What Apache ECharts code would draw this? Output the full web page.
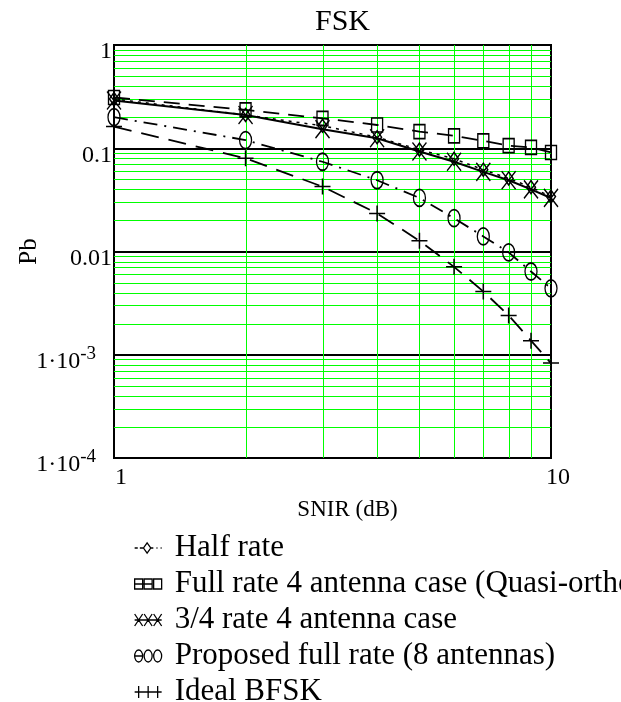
<!DOCTYPE html>
<html><head><meta charset="utf-8">
<script src="https://cdn.jsdelivr.net/npm/echarts@6/dist/echarts.min.js"></script>
<style>html,body{margin:0;padding:0;background:#fff}#c{width:621px;height:702px}</style>
</head><body><div id="c"></div>
<script>
// ---- data ----
const snir = [1, 2, 3, 4, 5, 6, 7, 8, 9, 10];
const halfRate = [0.30, 0.21, 0.165, 0.128, 0.097, 0.079, 0.062, 0.051, 0.042, 0.034];
const fullRate4 = [0.31, 0.235, 0.195, 0.168, 0.145, 0.132, 0.118, 0.106, 0.102, 0.091];
const threeQuarterRate4 = [0.29, 0.21, 0.153, 0.125, 0.093, 0.074, 0.059, 0.049, 0.040, 0.033];
const proposedFull8 = [0.20, 0.12, 0.074, 0.049, 0.033, 0.021, 0.014, 0.0098, 0.0064, 0.0044];
const idealBFSK = [0.162, 0.080, 0.0425, 0.0234, 0.0127, 0.0071, 0.0041, 0.0024, 0.00137, 0.00083];
const seriesNames = [
  'Half rate',
  'Full rate 4 antenna case (Quasi-orthogonal)',
  '3/4 rate 4 antenna case',
  'Proposed full rate (8 antennas)',
  'Ideal BFSK'
];
const yTickText = {'0': '1', '-1': '0.1', '-2': '0.01', '-3': '{m|1·10}{e|-3}{sp|}', '-4': '{m|1·10}{e|-4}{sp|}'};
const minorMultipliers = [2, 3, 4, 5, 6, 7, 8, 9];
const yDecades = [0.0001, 0.001, 0.01, 0.1];
const xRange = [1, 10];
const yRange = [0.0001, 1];

const FONT = '"Liberation Serif", "Times New Roman", serif';
const minorY = [];
yDecades.forEach(d => minorMultipliers.forEach(m => minorY.push(+(d * m).toPrecision(3))));
const minorX = minorMultipliers.slice();
// [orientation (0 = horizontal, 1 = vertical), value]
const gridLineData = minorY.map(v => [0, v]).concat(minorX.map(v => [1, v]));

function pairs(ys) { return snir.map((x, i) => [x, ys[i]]); }
const hollow = {color: 'rgba(0,0,0,0)', borderColor: '#000', borderWidth: 1.5};

const SYM_X = 'path://M0,0L10,12M10,0L0,12';
const SYM_PLUS = 'path://M5,0L5,10M0,5L10,5';
const SYM_ELL = 'path://M5,0A5,5 0 1,1 5,10A5,5 0 1,1 5,0Z';

const ICONS = [
  'path://M0,6L3,6M5,6L8,6M12,1L15.5,6L12,11L8.5,6ZM15.5,6L18,6M21,6L22,6M25,6L26,6',
  'path://M0,1L8,1L8,11L0,11ZM9.5,1L17.5,1L17.5,11L9.5,11ZM19,1L27,1L27,11L19,11ZM0,6L17.5,6',
  'path://M0,0L8,12M8,0L0,12M9.5,0L17.5,12M17.5,0L9.5,12M19,0L27,12M27,0L19,12M0,6L27,6',
  'path://M4,0A4,6 0 1,1 4,12A4,6 0 1,1 4,0ZM13.5,0A4,6 0 1,1 13.5,12A4,6 0 1,1 13.5,0ZM23,0A4,6 0 1,1 23,12A4,6 0 1,1 23,0ZM0,6L8,6',
  'path://M0,6L27,6M4,0L4,12M13.5,0L13.5,12M23,0L23,12'
];

function renderGridLine(params, api) {
  const horiz = api.value(0) === 0;
  const v = api.value(1);
  let a, b;
  if (horiz) {
    a = api.coord([xRange[0], v]); b = api.coord([xRange[1], v]);
    const y = Math.round(a[1]) + 0.5;
    a = [a[0], y]; b = [b[0], y];
  } else {
    a = api.coord([v, yRange[0]]); b = api.coord([v, yRange[1]]);
    const x = Math.round(a[0]) + 0.5;
    a = [x, a[1]]; b = [x, b[1]];
  }
  return {
    type: 'line', silent: true,
    shape: {x1: a[0], y1: a[1], x2: b[0], y2: b[1]},
    style: {stroke: '#00ff00', lineWidth: 1}
  };
}

const chart = echarts.init(document.getElementById('c'), null, {renderer: 'canvas'});
chart.setOption({
  animation: false,
  backgroundColor: '#fff',
  title: {
    text: 'FSK', left: 310, top: 2,
    textStyle: {fontFamily: FONT, fontSize: 30, fontWeight: 'normal', color: '#000'}
  },
  grid: {left: 114, right: 70, top: 45, bottom: 244, show: true, borderColor: '#000', borderWidth: 2,
    backgroundColor: '#fff', containLabel: false, outerBoundsMode: 'none'},
  legend: {
    orient: 'vertical', left: 134, top: 532, height: 220, itemGap: 4, itemWidth: 27, itemHeight: 12,
    padding: 0, selectedMode: false,
    textStyle: {fontFamily: FONT, fontSize: 31, lineHeight: 32, color: '#000', padding: [0, 0, 0, 8]},
    data: seriesNames.map((n, i) => ({name: n, icon: ICONS[i], itemStyle: {color: 'rgba(0,0,0,0)', borderColor: '#000', borderWidth: 1.3}}))
  },
  xAxis: {
    type: 'log', logBase: 10, min: xRange[0], max: xRange[1],
    name: 'SNIR (dB)', nameLocation: 'middle', nameGap: 40, nameMoveOverlap: false,
    nameTextStyle: {fontFamily: FONT, fontSize: 23, color: '#000', padding: [0, 0, 0, 30]},
    axisLine: {show: true, lineStyle: {color: '#000', width: 2}},
    axisTick: {show: false},
    splitLine: {show: false},
    minorSplitLine: {show: false},
    axisLabel: {fontFamily: FONT, fontSize: 24, color: '#000', margin: 8, align: 'center', padding: [0, 0, 0, 14],
      formatter: v => String(Math.round(v))}
  },
  yAxis: {
    type: 'log', logBase: 10, min: yRange[0], max: yRange[1],
    name: 'Pb', nameLocation: 'middle', nameGap: 72, nameRotate: 90, nameMoveOverlap: false,
    nameTextStyle: {fontFamily: FONT, fontSize: 25, color: '#000'},
    axisLine: {show: true, lineStyle: {color: '#000', width: 2}},
    axisTick: {show: false},
    splitLine: {show: true, lineStyle: {color: '#000', width: 2}},
    minorSplitLine: {show: false},
    axisLabel: {
      fontFamily: FONT, fontSize: 24, color: '#000', margin: 2, padding: [14, 0, 0, 0],
      formatter: v => yTickText[String(Math.round(Math.log10(v)))],
      rich: {
        m: {fontFamily: FONT, fontSize: 24, color: '#000'},
        e: {fontFamily: FONT, fontSize: 19, color: '#000', padding: [0, 0, 16, 0]},
        sp: {width: 16}
      }
    }
  },
  series: [
    {
      type: 'custom', name: '_grid', coordinateSystem: 'cartesian2d', z: 1, silent: true,
      renderItem: renderGridLine, data: gridLineData, clip: false
    },
    {
      type: 'line', name: seriesNames[0], data: pairs(halfRate), z: 5,
      symbol: 'diamond', symbolSize: [9, 13], itemStyle: hollow,
      lineStyle: {color: '#000', width: 1.5, type: [3, 5]}
    },
    {
      type: 'line', name: seriesNames[1], data: pairs(fullRate4), z: 5,
      symbol: 'rect', symbolSize: [11, 14], itemStyle: hollow,
      lineStyle: {color: '#000', width: 1.8, type: [16, 9]}
    },
    {
      type: 'line', name: seriesNames[2], data: pairs(threeQuarterRate4), z: 5,
      symbol: SYM_X, symbolSize: [14, 18], itemStyle: hollow,
      lineStyle: {color: '#000', width: 2, type: 'solid'}
    },
    {
      type: 'line', name: seriesNames[3], data: pairs(proposedFull8), z: 5,
      symbol: SYM_ELL, symbolSize: [12, 17], itemStyle: hollow,
      lineStyle: {color: '#000', width: 1.8, type: [14, 7, 2, 7]}
    },
    {
      type: 'line', name: seriesNames[4], data: pairs(idealBFSK), z: 5,
      symbol: SYM_PLUS, symbolSize: [16, 16], itemStyle: hollow,
      lineStyle: {color: '#000', width: 1.8, type: [18, 10]}
    }
  ]
});
</script>
</body></html>
